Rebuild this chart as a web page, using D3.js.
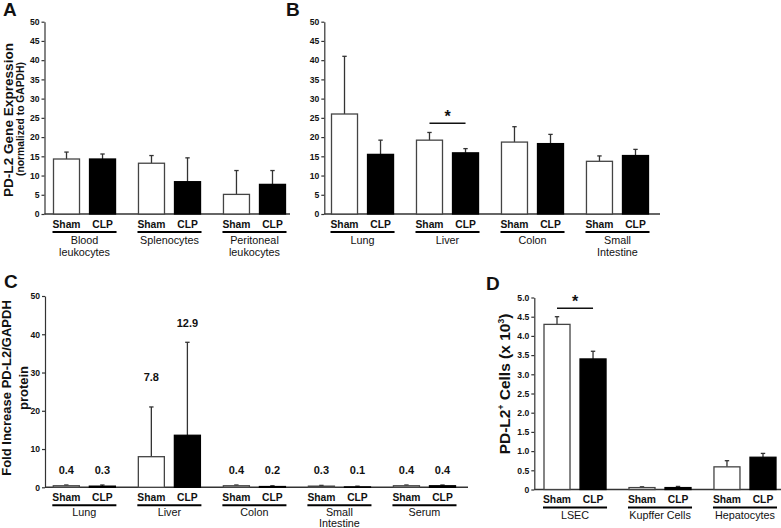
<!DOCTYPE html>
<html><head><meta charset="utf-8">
<script src="https://cdn.jsdelivr.net/npm/d3@7"></script>
<style>
html,body{margin:0;padding:0;background:#fff;}
text{font-family:"Liberation Sans",Arial,Helvetica,sans-serif;fill:#111;}
</style></head>
<body>
<svg id="c" width="781" height="528"></svg>
<script>
// ---------- DATA ----------
const conditions = ["Sham", "CLP"];

// Panel A: PD-L2 gene expression (normalized to GAPDH)
const aGroups = [["Blood", "leukocytes"], ["Splenocytes"], ["Peritoneal", "leukocytes"]];
const aSham = [14.3, 13.2, 5.1];
const aShamErr = [1.8, 2.0, 6.2];
const aClp = [14.3, 8.4, 7.7];
const aClpErr = [1.3, 6.2, 3.6];

// Panel B
const bGroups = [["Lung"], ["Liver"], ["Colon"], ["Small", "Intestine"]];
const bSham = [26.0, 19.2, 18.7, 13.7];
const bShamErr = [15.0, 2.0, 4.0, 1.4];
const bClp = [15.5, 15.9, 18.3, 15.2];
const bClpErr = [3.7, 1.1, 2.4, 1.6];
const bSig = { group: 1, level: 23.6 };

// Panel C: fold increase PD-L2/GAPDH protein
const cGroups = [["Lung"], ["Liver"], ["Colon"], ["Small", "Intestine"], ["Serum"]];
const cSham = [0.4, 8.0, 0.4, 0.3, 0.4];
const cShamErr = [0.2, 13.0, 0.2, 0.2, 0.2];
const cClp = [0.3, 13.6, 0.2, 0.1, 0.4];
const cClpErr = [0.3, 24.3, 0.2, 0.2, 0.2];
const cShamLabels = ["0.4", "7.8", "0.4", "0.3", "0.4"];
const cClpLabels = ["0.3", "12.9", "0.2", "0.1", "0.4"];
const cShamLabelAt = [4.5, 28.8, 4.5, 4.5, 4.5];
const cClpLabelAt = [4.5, 43.0, 4.5, 4.5, 4.5];

// Panel D: PD-L2+ cells (x 10^3)
const dGroups = [["LSEC"], ["Kupffer Cells"], ["Hepatocytes"]];
const dSham = [4.3, 0.05, 0.59];
const dShamErr = [0.2, 0.02, 0.16];
const dClp = [3.4, 0.05, 0.84];
const dClpErr = [0.2, 0.03, 0.1];
const dSig = { group: 0, level: 4.72 };

// Tick settings
const abTicks = d3.range(0, 50.001, 5);
const cTicks = d3.range(0, 50.001, 10);
const dTicks = d3.range(0, 5.001, 0.5);

// ---------- LAYOUT ----------
const svg = d3.select("#c");
const FONT = '"Liberation Sans",Arial,Helvetica,sans-serif';
const AX = "#333";

function panel(cfg) {
  const g = svg.append("g");
  const names = cfg.groups.map(d => d.join(" "));
  const y = d3.scaleLinear().domain([0, cfg.ymax]).range([cfg.y0, cfg.y1]);
  const xg = d3.scaleBand().domain(names).range([cfg.xStart, cfg.xEnd]).paddingInner(0.27).paddingOuter(0);
  const xi = d3.scaleBand().domain(conditions).range([0, xg.bandwidth()]).paddingInner(0.278);

  // y axis
  const ax = g.append("g").attr("transform", `translate(${cfg.axisX},0)`)
    .call(d3.axisLeft(y).tickValues(cfg.ticks).tickSize(3).tickSizeOuter(0).tickPadding(2).tickFormat(cfg.fmt));
  ax.selectAll("path,line").attr("stroke", AX).attr("stroke-width", 1.2);
  ax.selectAll("text").attr("font-family", FONT).attr("font-size", 8.6).attr("font-weight", "bold").attr("fill", "#111");

  // x baseline
  g.append("line").attr("x1", cfg.axisX).attr("x2", cfg.axisEnd)
    .attr("y1", y(0)).attr("y2", y(0)).attr("stroke", AX).attr("stroke-width", 1.4);

  const rows = [];
  names.forEach((n, i) => {
    rows.push({ g: n, c: "Sham", v: cfg.sham[i], e: cfg.shamErr[i], i });
    rows.push({ g: n, c: "CLP", v: cfg.clp[i], e: cfg.clpErr[i], i });
  });
  const bx = d => xg(d.g) + xi(d.c);
  const bw = xi.bandwidth();

  // error bars (upward only)
  const eb = g.append("g").selectAll("g").data(rows).join("g");
  eb.append("line").attr("x1", d => bx(d) + bw / 2).attr("x2", d => bx(d) + bw / 2)
    .attr("y1", d => y(d.v)).attr("y2", d => y(d.v + d.e)).attr("stroke", AX).attr("stroke-width", 1.3);
  eb.append("line").attr("x1", d => bx(d) + bw / 2 - 2.2).attr("x2", d => bx(d) + bw / 2 + 2.2)
    .attr("y1", d => y(d.v + d.e)).attr("y2", d => y(d.v + d.e)).attr("stroke", AX).attr("stroke-width", 1.3);

  // bars
  g.append("g").selectAll("rect").data(rows).join("rect")
    .attr("x", d => bx(d)).attr("width", bw)
    .attr("y", d => y(d.v)).attr("height", d => y(0) - y(d.v))
    .attr("fill", d => d.c === "Sham" ? "#fff" : "#000")
    .attr("stroke", d => d.c === "Sham" ? "#444" : "#000").attr("stroke-width", 1.3);

  // condition labels
  g.append("g").selectAll("text").data(rows).join("text")
    .attr("x", d => bx(d) + bw / 2).attr("y", y(0) + 13.5)
    .attr("text-anchor", "middle").attr("font-size", 10.3).attr("font-weight", "bold")
    .text(d => d.c);

  // group underline + labels
  names.forEach((n, i) => {
    g.append("line").attr("x1", xg(n) - 1).attr("x2", xg(n) + xg.bandwidth() + 1)
      .attr("y1", y(0) + 18).attr("y2", y(0) + 18).attr("stroke", "#000").attr("stroke-width", 2);
    const t = g.append("text").attr("text-anchor", "middle").attr("font-size", 10.8);
    cfg.groups[i].forEach((line, k) => {
      t.append("tspan").attr("x", xg(n) + xg.bandwidth() / 2).attr("y", y(0) + cfg.gy + cfg.lh * k).text(line);
    });
  });

  // value labels
  if (cfg.labels) {
    g.append("g").selectAll("text").data(rows).join("text")
      .attr("x", d => bx(d) + bw / 2)
      .attr("y", d => y(d.c === "Sham" ? cfg.labelAtSham[d.i] : cfg.labelAtClp[d.i]) + 4)
      .attr("text-anchor", "middle").attr("font-size", 11).attr("font-weight", "bold")
      .text(d => d.c === "Sham" ? cfg.labels[0][d.i] : cfg.labels[1][d.i]);
  }

  // significance
  if (cfg.sig) {
    const n = names[cfg.sig.group];
    const xa = xg(n) + xi("Sham") + bw / 2, xb = xg(n) + xi("CLP") + bw / 2;
    g.append("line").attr("x1", xa).attr("x2", xb).attr("y1", y(cfg.sig.level)).attr("y2", y(cfg.sig.level))
      .attr("stroke", "#111").attr("stroke-width", 1.3);
    g.append("text").attr("x", (xa + xb) / 2).attr("y", y(cfg.sig.level) - 1)
      .attr("text-anchor", "middle").attr("font-size", 16).attr("font-weight", "bold").text("*");
  }
  return g;
}

const fmtInt = d3.format("d");
const fmtD = d => d === 0 ? "0" : d3.format(".1f")(d);

panel({ groups: aGroups, sham: aSham, shamErr: aShamErr, clp: aClp, clpErr: aClpErr, gy: 29.5, lh: 12.4,
  ymax: 50, y0: 214, y1: 21.7, axisX: 44.5, xStart: 53.5, xEnd: 285.5, axisEnd: 290, ticks: abTicks, fmt: fmtInt });
panel({ groups: bGroups, sham: bSham, shamErr: bShamErr, clp: bClp, clpErr: bClpErr, sig: bSig, gy: 29.5, lh: 12.4,
  ymax: 50, y0: 214, y1: 21.7, axisX: 324.3, xStart: 331.5, xEnd: 648.5, axisEnd: 660, ticks: abTicks, fmt: fmtInt });
panel({ groups: cGroups, sham: cSham, shamErr: cShamErr, clp: cClp, clpErr: cClpErr, gy: 29, lh: 10.6,
  labels: [cShamLabels, cClpLabels], labelAtSham: cShamLabelAt, labelAtClp: cClpLabelAt,
  ymax: 50, y0: 487.3, y1: 296, axisX: 45, xStart: 53.3, xEnd: 455.5, axisEnd: 468, ticks: cTicks, fmt: fmtInt });
panel({ groups: dGroups, sham: dSham, shamErr: dShamErr, clp: dClp, clpErr: dClpErr, sig: dSig, gy: 29.5, lh: 12,
  ymax: 5, y0: 489.5, y1: 297.5, axisX: 534.3, xStart: 544, xEnd: 776, axisEnd: 781, ticks: dTicks, fmt: fmtD });

// ---------- TITLES ----------
function vtext(x, y, size, weight) {
  return svg.append("text").attr("transform", `translate(${x},${y}) rotate(-90)`)
    .attr("text-anchor", "middle").attr("font-size", size).attr("font-weight", weight);
}
vtext(12.5, 120, 13.6, "bold").text("PD-L2 Gene Expression");
vtext(24, 119, 10.3, "bold").text("(normalized to GAPDH)");
vtext(11, 388, 13, "bold").text("Fold Increase PD-L2/GAPDH");
vtext(28, 388, 13, "bold").text("protein");
const dt = vtext(510, 384, 15.5, "bold");
dt.append("tspan").text("PD-L2");
dt.append("tspan").attr("font-size", 8.5).attr("dy", -6).text("+");
dt.append("tspan").attr("dy", 6).text(" Cells (x 10");
dt.append("tspan").attr("font-size", 8.5).attr("dy", -6).text("3");
dt.append("tspan").attr("dy", 6).text(")");

// panel letters
[["A", 3, 16], ["B", 286, 16], ["C", 4, 288], ["D", 486, 290]].forEach(([t, x, y]) => {
  svg.append("text").attr("x", x).attr("y", y).attr("font-size", 19).attr("font-weight", "bold").attr("fill", "#000").text(t);
});
</script>
</body></html>
